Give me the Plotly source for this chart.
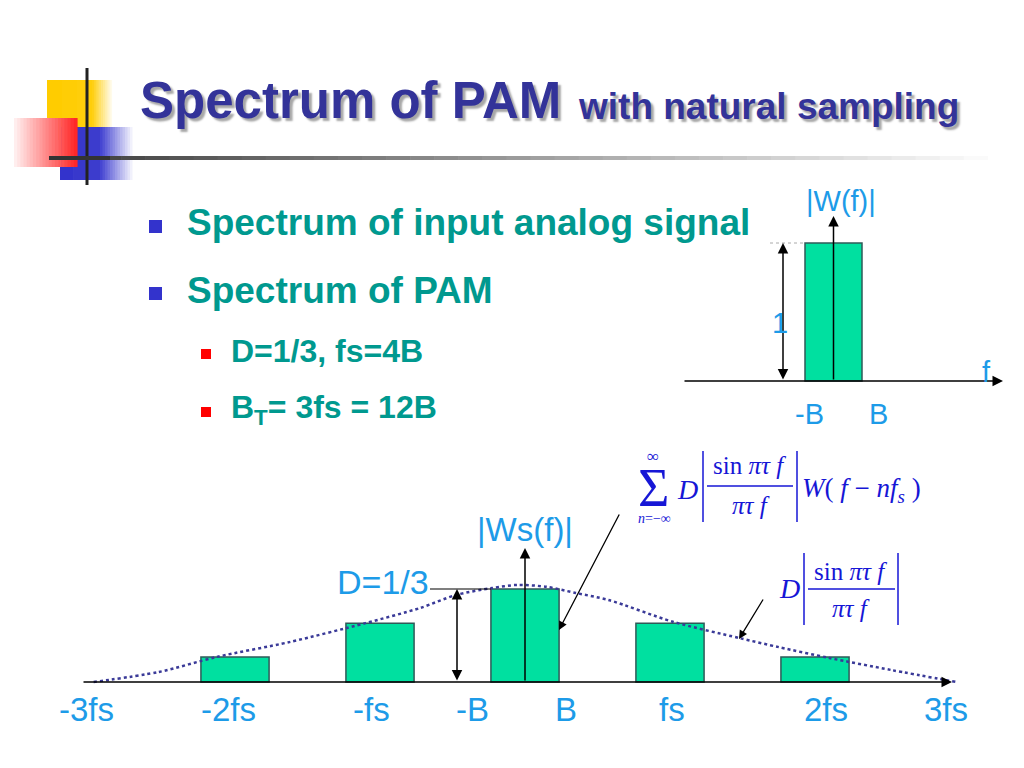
import plotly.graph_objects as go

W, H = 1024, 768
def px(x): return x / W
def py(y): return 1 - y / H

# ---------------- data ----------------
# bottom spectrum |Ws(f)|, frequency in units of B (fs = 4B)
ws_centers = [-8, -4, 0, 4, 8]
ws_heights = [0.090, 0.211, 0.333, 0.211, 0.090]
env_x = [-11.9, -10.1, -8.5, -6.5, -4.4, -2.9, -1.9, -0.9, -0.2, 0.6, 1.4, 2.3, 4.1, 5.9, 7.0, 8.4, 10.1, 11.9]
env_y = [0.0, 0.036, 0.090, 0.143, 0.211, 0.265, 0.312, 0.337, 0.348, 0.341, 0.319, 0.294, 0.215, 0.158, 0.125, 0.086, 0.043, 0.0]
bottom_tick_vals = [-12, -8, -4, -1, 1, 4, 8, 12]
bottom_tick_text = ["-3fs", "-2fs", "-fs", "-B", "B", "fs", "2fs", "3fs"]
bottom_tick_shift = [-4, -7, -9, -16, 5, 2, 11, -14]
D_value = 1 / 3

# top spectrum |W(f)|
w_centers = [0]
w_heights = [1]
top_tick_vals = [-1, 1]
top_tick_text = ["-B", "B"]
top_tick_shift = [4, 16]

bullets = ["Spectrum of input analog signal", "Spectrum of PAM"]
sub_bullets = ["D=1/3, fs=4B", "B<sub>T</sub>= 3fs = 12B"]

# ---------------- styles ----------------
BAR = "#00e0a0"
BAR_LINE = "#2f5a58"
LB = "#1d9be8"
FC = "#1616d6"
TEAL = "#00998f"
NAVY = "#333399"
SANS = "Liberation Sans, Arial, sans-serif"
SERIF = "Liberation Serif, Times New Roman, serif"

# pixel mapping of the two axes
BX0, BXS, BY0, BYS = 525, 36.25, 682, 279
TX0, TXS, TY0, TYS = 833.5, 28.5, 381, 138

fig = go.Figure()
fig.add_trace(go.Bar(x=ws_centers, y=ws_heights, width=1.88, marker=dict(color=BAR, line=dict(color=BAR_LINE, width=1.5)),
                     xaxis="x", yaxis="y", showlegend=False, hoverinfo="skip"))
fig.add_trace(go.Scatter(x=env_x, y=env_y, mode="lines", line=dict(color="#3a3a98", width=2.5, dash="dot", shape="spline", smoothing=0.8),
                         xaxis="x", yaxis="y", showlegend=False, hoverinfo="skip"))
fig.add_trace(go.Bar(x=w_centers, y=w_heights, width=2, marker=dict(color=BAR, line=dict(color=BAR_LINE, width=1.5)),
                     xaxis="x2", yaxis="y2", showlegend=False, hoverinfo="skip"))

shapes = []
ann = []

def grad_rect(x0, x1, y0, y1, c0, c1, n=24):
    for i in range(n):
        t = i / (n - 1) if n > 1 else 0
        c = tuple(int(round(c0[k] + (c1[k] - c0[k]) * t)) for k in range(3))
        xa = x0 + (x1 - x0) * i / n
        xb = x0 + (x1 - x0) * (i + 1) / n + 0.6
        shapes.append(dict(type="rect", xref="paper", yref="paper", x0=px(xa), x1=px(xb), y0=py(y1), y1=py(y0),
                           fillcolor="rgb(%d,%d,%d)" % c, line=dict(width=0), layer="below"))

# decoration top-left
grad_rect(47, 92, 80, 140, (255, 204, 0), (255, 206, 10), 3)
grad_rect(92, 114, 80, 140, (255, 208, 20), (255, 255, 255), 12)
grad_rect(60, 100, 127, 180, (51, 51, 204), (60, 60, 205), 3)
grad_rect(100, 135, 127, 180, (70, 70, 210), (255, 255, 255), 14)
grad_rect(14, 77, 118, 167, (255, 238, 238), (255, 40, 40), 20)
# title underline gradient
grad_rect(49, 1012, 156, 160, (60, 60, 60), (255, 255, 255), 40)
shapes.append(dict(type="line", xref="paper", yref="paper", x0=px(87), x1=px(87), y0=py(68), y1=py(185),
                   line=dict(color="#222", width=3)))
shapes.append(dict(type="line", xref="paper", yref="paper", x0=px(49), x1=px(110), y0=py(158), y1=py(158),
                   line=dict(color="#333", width=4)))

# title
SHADOW = "3px 3px 2px rgba(0,0,0,0.35)"
ann.append(dict(text="<b>Spectrum of PAM</b>", xref="paper", yref="paper", x=px(138), y=py(100), xanchor="left", yanchor="middle",
                showarrow=False, font=dict(family=SANS, size=51, color=NAVY, shadow=SHADOW)))
ann.append(dict(text="<b>with natural sampling</b>", xref="paper", yref="paper", x=px(576), y=py(106), xanchor="left", yanchor="middle",
                showarrow=False, font=dict(family=SANS, size=37, color=NAVY, shadow=SHADOW)))

# bullets
for i, (t, yc) in enumerate(zip(bullets, [223, 290])):
    ann.append(dict(text="<b>%s</b>" % t, xref="paper", yref="paper", x=px(185), y=py(yc), xanchor="left", yanchor="middle",
                    showarrow=False, font=dict(family=SANS, size=37, color=TEAL)))
    shapes.append(dict(type="rect", xref="paper", yref="paper", x0=px(149), x1=px(162), y0=py(yc + 10), y1=py(yc - 3),
                       fillcolor="#3333cc", line=dict(width=0)))
for i, (t, yc) in enumerate(zip(sub_bullets, [351, 409])):
    ann.append(dict(text="<b>%s</b>" % t, xref="paper", yref="paper", x=px(229), y=py(yc), xanchor="left", yanchor="middle",
                    showarrow=False, font=dict(family=SANS, size=32, color=TEAL)))
    shapes.append(dict(type="rect", xref="paper", yref="paper", x0=px(201), x1=px(211), y0=py(yc + 8), y1=py(yc - 2),
                       fillcolor="#ff0000", line=dict(width=0)))

def arrow(xr, yr, x, y, ax, ay, both=False, width=1.5):
    d = dict(xref=xr, yref=yr, x=x, y=y, ax=ax, ay=ay, axref=xr, ayref=yr, text="", showarrow=True,
             arrowhead=2, arrowsize=1.4, arrowwidth=width, arrowcolor="black", standoff=0)
    if both:
        d.update(arrowside="end+start", startarrowhead=2, startarrowsize=1.4, startstandoff=0)
    ann.append(d)

# ---- bottom chart decorations ----
arrow("x", "y", (952 - BX0) / BXS, 0, (82 - BX0) / BXS, 0)
arrow("x", "y", 0, (BY0 - 548) / BYS, 0, 0)
arrow("x", "y", (457 - BX0) / BXS, D_value, (457 - BX0) / BXS, 0, both=True)
shapes.append(dict(type="line", xref="x", yref="y", x0=(430 - BX0) / BXS, x1=-0.94, y0=D_value, y1=D_value,
                   line=dict(color="black", width=1.2)))
for v, t, s in zip(bottom_tick_vals, bottom_tick_text, bottom_tick_shift):
    ann.append(dict(text=t, xref="x", yref="paper", x=v, y=py(709), xshift=s, xanchor="center", yanchor="middle",
                    showarrow=False, font=dict(family=SANS, size=33, color=LB)))
ann.append(dict(text="|Ws(f)|", xref="x", yref="y", x=0, y=(BY0 - 529) / BYS, xanchor="center", yanchor="middle",
                showarrow=False, font=dict(family=SANS, size=33, color=LB)))
ann.append(dict(text="D=1/3", xref="x", yref="y", x=(431 - BX0) / BXS, y=D_value, yshift=7, xanchor="right", yanchor="middle",
                showarrow=False, font=dict(family=SANS, size=34, color=LB)))
# pointers
ann.append(dict(xref="x", yref="y", x=(559 - BX0) / BXS, y=(BY0 - 630) / BYS, ax=61, ay=-117, text="", showarrow=True,
                arrowhead=2, arrowsize=1.3, arrowwidth=1.3, arrowcolor="black", standoff=0))
ann.append(dict(xref="x", yref="y", x=(739 - BX0) / BXS, y=(BY0 - 639) / BYS, ax=25, ay=-41, text="", showarrow=True,
                arrowhead=2, arrowsize=1.3, arrowwidth=1.3, arrowcolor="black", standoff=0))

# ---- top-right chart decorations ----
arrow("x2", "y2", (1003 - TX0) / TXS, 0, (683 - TX0) / TXS, 0)
arrow("x2", "y2", 0, (TY0 - 216) / TYS, 0, 0)
arrow("x2", "y2", (783 - TX0) / TXS, 1, (783 - TX0) / TXS, 0, both=True)
shapes.append(dict(type="line", xref="x2", yref="y2", x0=(770 - TX0) / TXS, x1=-1, y0=1, y1=1,
                   line=dict(color="#aaaaaa", width=1, dash="dot")))
for v, t, s in zip(top_tick_vals, top_tick_text, top_tick_shift):
    ann.append(dict(text=t, xref="x2", yref="paper", x=v, y=py(414), xshift=s, xanchor="center", yanchor="middle",
                    showarrow=False, font=dict(family=SANS, size=29, color=LB)))
ann.append(dict(text="|W(f)|", xref="x2", yref="y2", x=(841 - TX0) / TXS, y=(TY0 - 201) / TYS, xanchor="center", yanchor="middle",
                showarrow=False, font=dict(family=SANS, size=29, color=LB)))
ann.append(dict(text="1", xref="x2", yref="y2", x=(780 - TX0) / TXS, y=(TY0 - 323) / TYS, xanchor="center", yanchor="middle",
                showarrow=False, font=dict(family=SANS, size=29, color=LB)))
ann.append(dict(text="f", xref="x2", yref="y2", x=(986 - TX0) / TXS, y=(TY0 - 372) / TYS, xanchor="center", yanchor="middle",
                showarrow=False, font=dict(family=SANS, size=29, color=LB)))

# ---- formulas ----
def ftxt(t, x, y, size, xanchor="center", h=None):
    d = dict(text=t, xref="paper", yref="paper", x=px(x), y=py(y), xanchor=xanchor, yanchor="middle",
             showarrow=False, font=dict(family=SERIF, size=size, color=FC))
    if h is not None:
        d.update(height=h, valign="middle")
    ann.append(d)
def fline(x0, y0, x1, y1, w=1.5):
    shapes.append(dict(type="line", xref="paper", yref="paper", x0=px(x0), x1=px(x1), y0=py(y0), y1=py(y1),
                       line=dict(color=FC, width=w)))

ftxt("Σ", 653, 488, 54, h=44)
ftxt("∞", 653, 456, 17, h=14)
ftxt("<i>n</i>=−∞", 654, 518, 14, h=14)
ftxt("<i>D</i>", 687, 489, 28)
fline(703, 451, 703, 522)
ftxt("sin <i>πτ f</i>", 749, 465, 25)
fline(707, 486, 793, 486)
ftxt("<i>πτ f</i>", 751, 505, 25)
fline(797, 451, 797, 522)
ftxt("<i>W</i>( <i>f</i> − <i>nf</i><sub><i>s</i></sub> )", 800, 490, 27, xanchor="left")

ftxt("<i>D</i>", 789, 588, 28)
fline(804, 553, 804, 625)
ftxt("sin <i>πτ f</i>", 850, 571, 25)
fline(808, 589, 895, 589)
ftxt("<i>πτ f</i>", 851, 608, 25)
fline(898, 553, 898, 625)

fig.update_layout(
    width=W, height=H, margin=dict(l=0, r=0, t=0, b=0), paper_bgcolor="white", plot_bgcolor="rgba(0,0,0,0)",
    xaxis=dict(domain=[0, 1], range=[(0 - BX0) / BXS, (W - BX0) / BXS], visible=False, fixedrange=True),
    yaxis=dict(domain=[py(760), py(480)], range=[(BY0 - 760) / BYS, (BY0 - 480) / BYS], visible=False, fixedrange=True),
    xaxis2=dict(domain=[px(660), px(1020)], range=[(660 - TX0) / TXS, (1020 - TX0) / TXS], visible=False, fixedrange=True, anchor="y2"),
    yaxis2=dict(domain=[py(440), py(180)], range=[(TY0 - 440) / TYS, (TY0 - 180) / TYS], visible=False, fixedrange=True, anchor="x2"),
    shapes=shapes, annotations=ann, showlegend=False, barmode="overlay",
)

fig.write_html("out.html", config=dict(displayModeBar=False),
               post_script="document.body.style.margin='0';document.body.style.overflow='hidden';")
